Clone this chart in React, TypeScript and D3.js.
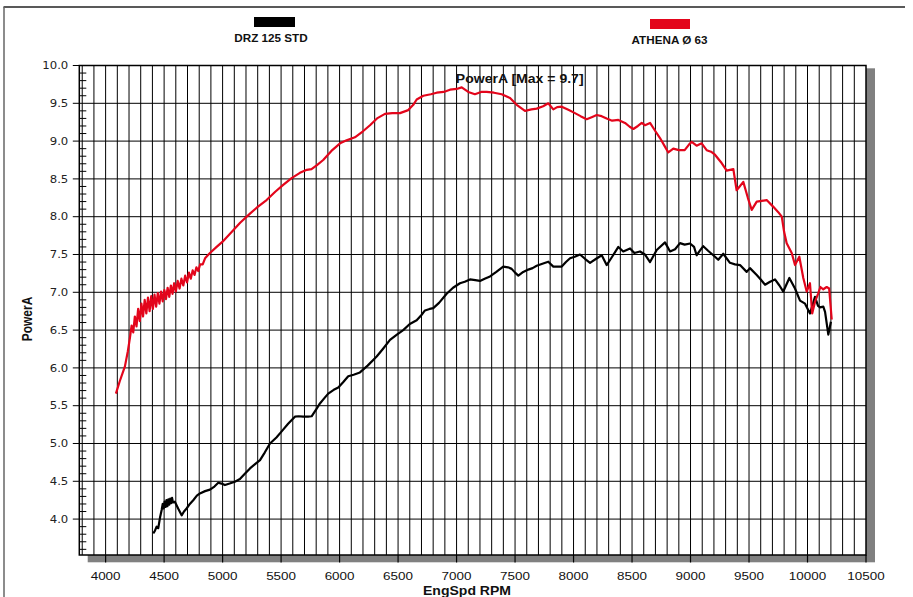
import React, { useEffect, useRef } from "react";
import * as d3 from "d3";

// [rpm, power]
const athenaData: [number, number][] = [
  [4088, 5.66], [4120, 5.82], [4165, 6.02], [4190, 6.22], [4208, 6.4],
  [4222, 6.56], [4236, 6.47], [4250, 6.68], [4264, 6.55], [4278, 6.78], [4292, 6.62],
  [4306, 6.85], [4320, 6.68], [4334, 6.9], [4348, 6.72], [4362, 6.93], [4376, 6.75],
  [4390, 6.95], [4404, 6.78], [4418, 6.97], [4432, 6.81], [4446, 6.99], [4460, 6.85],
  [4474, 7.01], [4488, 6.88], [4502, 7.03], [4516, 6.91], [4530, 7.06], [4544, 6.94],
  [4558, 7.09], [4572, 6.98], [4586, 7.12], [4600, 7.01], [4616, 7.15], [4632, 7.05],
  [4648, 7.18], [4664, 7.09], [4680, 7.22], [4696, 7.13], [4712, 7.26], [4728, 7.18],
  [4744, 7.29], [4760, 7.23], [4776, 7.33], [4792, 7.28], [4808, 7.37], [4830, 7.37],
  [4850, 7.45], [4892, 7.52], [4949, 7.6], [5000, 7.67], [5091, 7.82], [5150, 7.92],
  [5234, 8.04], [5300, 8.13], [5376, 8.22], [5450, 8.33], [5518, 8.42], [5590, 8.51],
  [5661, 8.58], [5720, 8.62], [5760, 8.63], [5804, 8.68], [5860, 8.75], [5930, 8.87],
  [6004, 8.97], [6060, 9.01], [6131, 9.05], [6200, 9.13], [6260, 9.21], [6320, 9.3],
  [6388, 9.36], [6450, 9.37], [6516, 9.37], [6587, 9.41], [6630, 9.48], [6659, 9.55],
  [6716, 9.6], [6780, 9.62], [6830, 9.64], [6890, 9.65], [6944, 9.68], [7000, 9.69],
  [7044, 9.71], [7100, 9.65], [7157, 9.62], [7210, 9.65], [7257, 9.65], [7320, 9.64],
  [7386, 9.62], [7457, 9.57], [7514, 9.48], [7585, 9.4], [7640, 9.42], [7685, 9.43],
  [7740, 9.46], [7784, 9.5], [7827, 9.42], [7860, 9.45], [7899, 9.455], [7960, 9.41],
  [8012, 9.37], [8060, 9.33], [8112, 9.29], [8160, 9.32], [8198, 9.345], [8240, 9.33],
  [8283, 9.3], [8330, 9.27], [8383, 9.28], [8440, 9.24], [8480, 9.19], [8511, 9.16],
  [8550, 9.2], [8583, 9.24], [8611, 9.21], [8654, 9.24], [8700, 9.13], [8739, 9.04],
  [8780, 8.93], [8810, 8.85], [8853, 8.9], [8900, 8.88], [8950, 8.88], [8990, 8.96],
  [9010, 8.99], [9052, 8.94], [9095, 8.97], [9138, 8.88], [9175, 8.86], [9209, 8.82],
  [9266, 8.71], [9309, 8.61], [9366, 8.63], [9394, 8.35], [9420, 8.4], [9451, 8.46],
  [9490, 8.25], [9523, 8.09], [9566, 8.2], [9610, 8.21], [9651, 8.22], [9708, 8.13],
  [9750, 8.06], [9780, 8.0], [9800, 7.8], [9822, 7.65], [9865, 7.52], [9893, 7.36],
  [9930, 7.47], [9964, 7.19], [9993, 7.01], [10021, 7.12], [10040, 6.72], [10065, 6.88],
  [10090, 6.98], [10110, 7.07], [10135, 7.04], [10164, 7.07], [10185, 7.05], [10207, 6.64],
];

const drzData: [number, number][] = [
  [4407, 3.81], [4420, 3.84], [4436, 3.9], [4450, 3.88], [4465, 4.02], [4479, 4.12],
  [4488, 4.2], [4496, 4.14], [4504, 4.23], [4512, 4.16], [4520, 4.25], [4528, 4.17],
  [4536, 4.26], [4544, 4.19], [4552, 4.27], [4560, 4.21], [4568, 4.28], [4576, 4.22],
  [4592, 4.23], [4620, 4.14], [4650, 4.05], [4670, 4.1], [4692, 4.14], [4720, 4.2],
  [4749, 4.25], [4780, 4.31], [4806, 4.34], [4850, 4.37], [4892, 4.39], [4930, 4.43],
  [4963, 4.48], [4990, 4.47], [5020, 4.45], [5060, 4.47], [5105, 4.495], [5148, 4.53],
  [5190, 4.6], [5234, 4.67], [5280, 4.73], [5320, 4.78], [5360, 4.88], [5405, 5.0],
  [5460, 5.08], [5505, 5.16], [5560, 5.26], [5618, 5.355], [5650, 5.36], [5689, 5.355],
  [5730, 5.355], [5761, 5.36], [5800, 5.45], [5832, 5.53], [5870, 5.6], [5903, 5.66],
  [5950, 5.71], [5989, 5.74], [6030, 5.81], [6074, 5.89], [6120, 5.91], [6174, 5.94],
  [6240, 6.03], [6317, 6.15], [6370, 6.25], [6431, 6.37], [6490, 6.44], [6544, 6.5],
  [6600, 6.58], [6659, 6.63], [6700, 6.7], [6730, 6.76], [6770, 6.78], [6801, 6.79],
  [6850, 6.86], [6915, 6.98], [6970, 7.06], [7029, 7.12], [7070, 7.14], [7115, 7.17],
  [7160, 7.16], [7200, 7.15], [7240, 7.18], [7286, 7.21], [7340, 7.27], [7399, 7.34],
  [7440, 7.33], [7471, 7.31], [7500, 7.26], [7528, 7.22], [7570, 7.27], [7613, 7.3],
  [7650, 7.32], [7685, 7.35], [7740, 7.38], [7784, 7.405], [7827, 7.34], [7860, 7.34],
  [7899, 7.34], [7935, 7.4], [7970, 7.45], [8010, 7.47], [8055, 7.5], [8100, 7.44],
  [8141, 7.39], [8190, 7.44], [8241, 7.49], [8283, 7.36], [8330, 7.47], [8383, 7.6],
  [8425, 7.54], [8483, 7.58], [8520, 7.52], [8568, 7.54], [8610, 7.5], [8654, 7.4],
  [8711, 7.56], [8782, 7.66], [8825, 7.54], [8868, 7.57], [8910, 7.65], [8950, 7.63],
  [8996, 7.645], [9030, 7.6], [9052, 7.49], [9080, 7.55], [9109, 7.61], [9150, 7.55],
  [9195, 7.49], [9237, 7.43], [9280, 7.51], [9337, 7.39], [9380, 7.37], [9423, 7.36],
  [9480, 7.27], [9508, 7.32], [9566, 7.23], [9600, 7.17], [9637, 7.1], [9680, 7.14],
  [9722, 7.17], [9760, 7.09], [9793, 7.01], [9845, 7.19], [9893, 7.05], [9936, 6.89],
  [9979, 6.85], [10021, 6.72], [10064, 6.94], [10090, 6.82], [10107, 6.8], [10135, 6.81],
  [10150, 6.74], [10178, 6.44], [10200, 6.61],
];

const seriesNames = ["DRZ 125 STD", "ATHENA Ø 63"];
const xTicks = [4000, 4500, 5000, 5500, 6000, 6500, 7000, 7500, 8000, 8500, 9000, 9500, 10000, 10500];
const yTicks = [4.0, 4.5, 5.0, 5.5, 6.0, 6.5, 7.0, 7.5, 8.0, 8.5, 9.0, 9.5, 10.0];
const chartTitle = "PowerA [Max = 9.7]";
const xTitle = "EngSpd RPM";
const yTitle = "PowerA";

const theme = {
  background: "#ffffff",
  red: "#e3051b",
  black: "#000000",
  grid: "#000000",
  shadow: "#808080",
  frame: "#222222",
  font: "'Liberation Sans', Arial, sans-serif",
  tickFont: "'DejaVu Sans', Verdana, sans-serif",
};

// the original sheet is a bit stretched sideways
const stretch = 1.17;

const App = () => {
  const svgRef = useRef<SVGSVGElement>(null);

  useEffect(() => {
    const width = 913;
    const height = 597;
    const svg = d3.select(svgRef.current);
    svg.selectAll("*").remove();
    svg.attr("width", width).attr("height", height);

    svg.append("rect").attr("width", width).attr("height", height).attr("fill", theme.background);

    const plot = { left: 79.3, right: 866, top: 65.5, bottom: 555 };
    const x = d3.scaleLinear().domain([3775, 10500]).range([plot.left, plot.right]);
    const y = d3.scaleLinear().domain([3.525, 10]).range([plot.bottom, plot.top]);

    const addText = (tx: number, ty: number, str: string, size: number, opts: any = {}) =>
      svg
        .append("text")
        .attr("transform", `translate(${tx},${ty}) scale(${stretch},1)`)
        .attr("text-anchor", opts.anchor || "middle")
        .attr("fill", opts.color || "#111")
        .style("font-family", opts.font || theme.font)
        .style("font-weight", opts.bold ? "bold" : "normal")
        .style("font-size", size + "px")
        .text(str);

    // page frame
    svg.append("line").attr("x1", 3.5).attr("x2", 905).attr("y1", 7).attr("y2", 7)
      .attr("stroke", theme.frame).attr("stroke-width", 1.5);
    svg.append("line").attr("x1", 4).attr("x2", 4).attr("y1", 7).attr("y2", height)
      .attr("stroke", "#666").attr("stroke-width", 1.5);

    // legend
    svg.append("rect").attr("x", 254).attr("y", 17).attr("width", 41).attr("height", 10).attr("fill", theme.black);
    svg.append("rect").attr("x", 650).attr("y", 19).attr("width", 40).attr("height", 10).attr("fill", theme.red);
    addText(271, 42, seriesNames[0], 10, { bold: true });
    addText(669.5, 44, seriesNames[1], 10, { bold: true });

    // drop shadow + plot area
    svg.append("rect")
      .attr("x", 87.7).attr("y", 68.3)
      .attr("width", 875 - 87.7).attr("height", 562.3 - 68.3)
      .attr("fill", theme.shadow);
    svg.append("rect")
      .attr("x", plot.left).attr("y", plot.top)
      .attr("width", plot.right - plot.left).attr("height", plot.bottom - plot.top)
      .attr("fill", theme.background);

    const grid = svg.append("g");
    grid.selectAll(".vgrid")
      .data(d3.range(3800, 10500, 100))
      .enter()
      .append("line")
      .attr("x1", (d) => x(d)).attr("x2", (d) => x(d))
      .attr("y1", plot.top).attr("y2", plot.bottom)
      .attr("stroke", theme.grid).attr("stroke-width", 1);

    grid.selectAll(".hgrid")
      .data(yTicks)
      .enter()
      .append("line")
      .attr("x1", plot.left - 6.5).attr("x2", plot.right)
      .attr("y1", (d) => y(d)).attr("y2", (d) => y(d))
      .attr("stroke", theme.grid).attr("stroke-width", 1);

    // minor ticks every 0.1 on the left axis
    grid.selectAll(".minor")
      .data(d3.range(36, 100).filter((d) => d % 5 !== 0).map((d) => d / 10))
      .enter()
      .append("line")
      .attr("x1", plot.left).attr("x2", plot.left + 7)
      .attr("y1", (d) => y(d)).attr("y2", (d) => y(d))
      .attr("stroke", theme.grid).attr("stroke-width", 1);

    // x ticks through the shadow
    grid.selectAll(".xtick")
      .data(xTicks)
      .enter()
      .append("line")
      .attr("x1", (d) => x(d)).attr("x2", (d) => x(d))
      .attr("y1", plot.bottom).attr("y2", plot.bottom + 7.5)
      .attr("stroke", theme.grid).attr("stroke-width", 1.2);

    // plot border
    svg.append("rect")
      .attr("x", plot.left).attr("y", plot.top)
      .attr("width", plot.right - plot.left).attr("height", plot.bottom - plot.top)
      .attr("fill", "none").attr("stroke", "#000").attr("stroke-width", 1.5);

    // tick labels
    xTicks.forEach((t) => addText(x(t), 580, String(t), 11.5));
    yTicks.forEach((t) =>
      addText(68.3, y(t) + 3.7, t.toFixed(1), 10, { anchor: "end", font: theme.tickFont, color: "#222" })
    );

    // titles
    addText(519.7, 82.5, chartTitle, 12, { bold: true });
    addText(467, 594.5, xTitle, 12, { bold: true });
    svg.append("text")
      .attr("transform", `translate(31.5,319) rotate(-90) scale(1,${stretch})`)
      .attr("text-anchor", "middle")
      .attr("fill", "#111")
      .style("font-family", theme.font)
      .style("font-weight", "bold")
      .style("font-size", "12px")
      .text(yTitle);

    // curves
    const line = d3.line<[number, number]>()
      .x((d) => x(d[0]))
      .y((d) => y(d[1]));

    svg.append("path")
      .datum(drzData)
      .attr("d", line)
      .attr("fill", "none")
      .attr("stroke", theme.black)
      .attr("stroke-width", 2.2)
      .attr("stroke-linejoin", "round");

    svg.append("path")
      .datum(athenaData)
      .attr("d", line)
      .attr("fill", "none")
      .attr("stroke", theme.red)
      .attr("stroke-width", 2.2)
      .attr("stroke-linejoin", "round");
  }, []);

  return <svg ref={svgRef} style={{ position: "absolute", left: 0, top: 0, display: "block" }}></svg>;
};

export default App;
